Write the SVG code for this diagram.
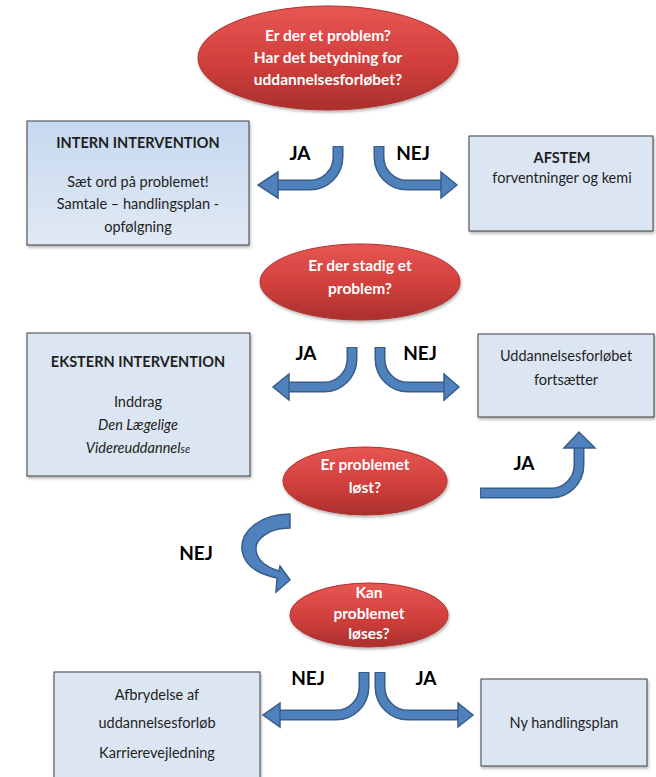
<svg xmlns="http://www.w3.org/2000/svg" width="656" height="777" viewBox="0 0 656 777">
<defs>
<linearGradient id="red" x1="0" y1="0" x2="0" y2="1">
<stop offset="0" stop-color="#e65753"/>
<stop offset="0.55" stop-color="#d13f3c"/>
<stop offset="1" stop-color="#a9302d"/>
</linearGradient>
<linearGradient id="blue1" x1="0" y1="0" x2="0" y2="1">
<stop offset="0" stop-color="#c6d9f0"/>
<stop offset="1" stop-color="#e1e9f4"/>
</linearGradient>
<filter id="sh" x="-10%" y="-10%" width="125%" height="130%">
<feDropShadow dx="1" dy="2" stdDeviation="1.5" flood-color="#000" flood-opacity="0.3"/>
</filter>
<style>
.ell{fill:url(#red);stroke:#b22f2c;stroke-width:1;filter:url(#sh)}
.box{fill:#dce6f2;stroke:#3f3f3f;stroke-width:1;filter:url(#sh)}
.et{font-family:Lato,"Open Sans","Liberation Sans",sans-serif;font-weight:bold;font-size:15.5px;fill:#fff;text-anchor:middle}
.bt{font-family:Lato,"Open Sans","Liberation Sans",sans-serif;font-size:14.5px;fill:#1f1f1f;text-anchor:middle}
.bb{font-weight:bold}
.lab{font-family:Lato,"Liberation Sans",sans-serif;font-weight:bold;font-size:19px;fill:#000;text-anchor:middle}
.so{fill:none;stroke:#385d8a;stroke-width:11}
.si{fill:none;stroke:#4f81bd;stroke-width:8}
.hd{fill:#4f81bd;stroke:#385d8a;stroke-width:1.5;stroke-linejoin:miter}
</style>
</defs>
<rect width="656" height="777" fill="#fff"/>

<g id="connectors">
<path class="so" d="M338,146 V157 A28,28 0 0 1 310,185 H278"/>
<path class="si" d="M338,147 V157 A28,28 0 0 1 310,185 H278"/>
<polygon class="hd" points="278,172 258,185 278,198"/>

<path class="so" d="M379,146 V157 A28,28 0 0 0 407,185 H441"/>
<path class="si" d="M379,147 V157 A28,28 0 0 0 407,185 H441"/>
<polygon class="hd" points="441,172 457,185 441,198"/>

<path class="so" d="M352,347 V359 A28,28 0 0 1 324,387 H289"/>
<path class="si" d="M352,348 V359 A28,28 0 0 1 324,387 H289"/>
<polygon class="hd" points="289,374 273,387 289,400"/>

<path class="so" d="M380,347 V359 A28,28 0 0 0 408,387 H444"/>
<path class="si" d="M380,348 V359 A28,28 0 0 0 408,387 H444"/>
<polygon class="hd" points="444,374 459,387 444,400"/>

<path class="so" d="M480,493 H551 A28,28 0 0 0 579,465 V448"/>
<path class="si" d="M481,493 H551 A28,28 0 0 0 579,465 V448"/>
<polygon class="hd" points="564,448 579,432 595,448"/>

<path class="hd" d="M290,514 C262,514 240,530 242,550 C244,566 258,574 277,578 L276,592 L290,580 L280,566 L279,571 C266,567 257,560 256,550 C255,538 270,528 290,528 Z"/>

<path class="so" d="M364,672 V687 A28,28 0 0 1 336,715 H280"/>
<path class="si" d="M364,673 V687 A28,28 0 0 1 336,715 H280"/>
<polygon class="hd" points="280,703 263,715 280,727"/>

<path class="so" d="M380,672 V687 A28,28 0 0 0 408,715 H458"/>
<path class="si" d="M380,673 V687 A28,28 0 0 0 408,715 H458"/>
<polygon class="hd" points="458,703 473,715 458,727"/>

<text class="lab" x="300" y="160">JA</text>
<text class="lab" x="413" y="160">NEJ</text>
<text class="lab" x="306" y="360">JA</text>
<text class="lab" x="420" y="360">NEJ</text>
<text class="lab" x="524" y="470">JA</text>
<text class="lab" x="196" y="560">NEJ</text>
<text class="lab" x="308" y="685">NEJ</text>
<text class="lab" x="426" y="685">JA</text>
</g>

<g id="q1">
<ellipse class="ell" cx="328" cy="58" rx="130" ry="52"/>
<text class="et" x="328" y="41">Er der et problem?</text>
<text class="et" x="328" y="63">Har det betydning for</text>
<text class="et" x="328" y="85">uddannelsesforløbet?</text>
</g>

<g id="intern">
<rect class="box" x="27" y="121" width="222" height="124" style="fill:url(#blue1)"/>
<text class="bt bb" x="138" y="148">INTERN INTERVENTION</text>
<text class="bt" x="138" y="187">Sæt ord på problemet!</text>
<text class="bt" x="138" y="209">Samtale – handlingsplan -</text>
<text class="bt" x="138" y="232">opfølgning</text>
</g>

<g id="afstem">
<rect class="box" x="469" y="136" width="184" height="95"/>
<text class="bt bb" x="562" y="163">AFSTEM</text>
<text class="bt" x="562" y="183">forventninger og kemi</text>
</g>

<g id="q2">
<ellipse class="ell" cx="360" cy="282" rx="100" ry="38"/>
<text class="et" x="360" y="271">Er der stadig et</text>
<text class="et" x="360" y="294">problem?</text>
</g>

<g id="ekstern">
<rect class="box" x="27" y="333" width="223" height="143"/>
<text class="bt bb" x="138" y="367">EKSTERN INTERVENTION</text>
<text class="bt" x="138" y="407">Inddrag</text>
<text class="bt" x="138" y="430" font-style="italic">Den Lægelige</text>
<text class="bt" x="138" y="453" font-style="italic">Videreuddannel<tspan font-size="11">se</tspan></text>
</g>

<g id="fortsaetter">
<rect class="box" x="478" y="334" width="176" height="83"/>
<text class="bt" x="566" y="361">Uddannelsesforløbet</text>
<text class="bt" x="566" y="385">fortsætter</text>
</g>

<g id="q3">
<ellipse class="ell" cx="365" cy="481" rx="82" ry="34"/>
<text class="et" x="365" y="470">Er problemet</text>
<text class="et" x="365" y="493">løst?</text>
</g>

<g id="q4">
<ellipse class="ell" cx="369" cy="615" rx="79" ry="32"/>
<text class="et" x="369" y="598">Kan</text>
<text class="et" x="369" y="619">problemet</text>
<text class="et" x="369" y="639">løses?</text>
</g>

<g id="afbrydelse">
<rect class="box" x="54" y="672" width="206" height="110"/>
<text class="bt" x="157" y="700">Afbrydelse af</text>
<text class="bt" x="157" y="728">uddannelsesforløb</text>
<text class="bt" x="157" y="758">Karrierevejledning</text>
</g>

<g id="nyplan">
<rect class="box" x="481" y="679" width="166" height="87"/>
<text class="bt" x="564" y="728">Ny handlingsplan</text>
</g>
</svg>
